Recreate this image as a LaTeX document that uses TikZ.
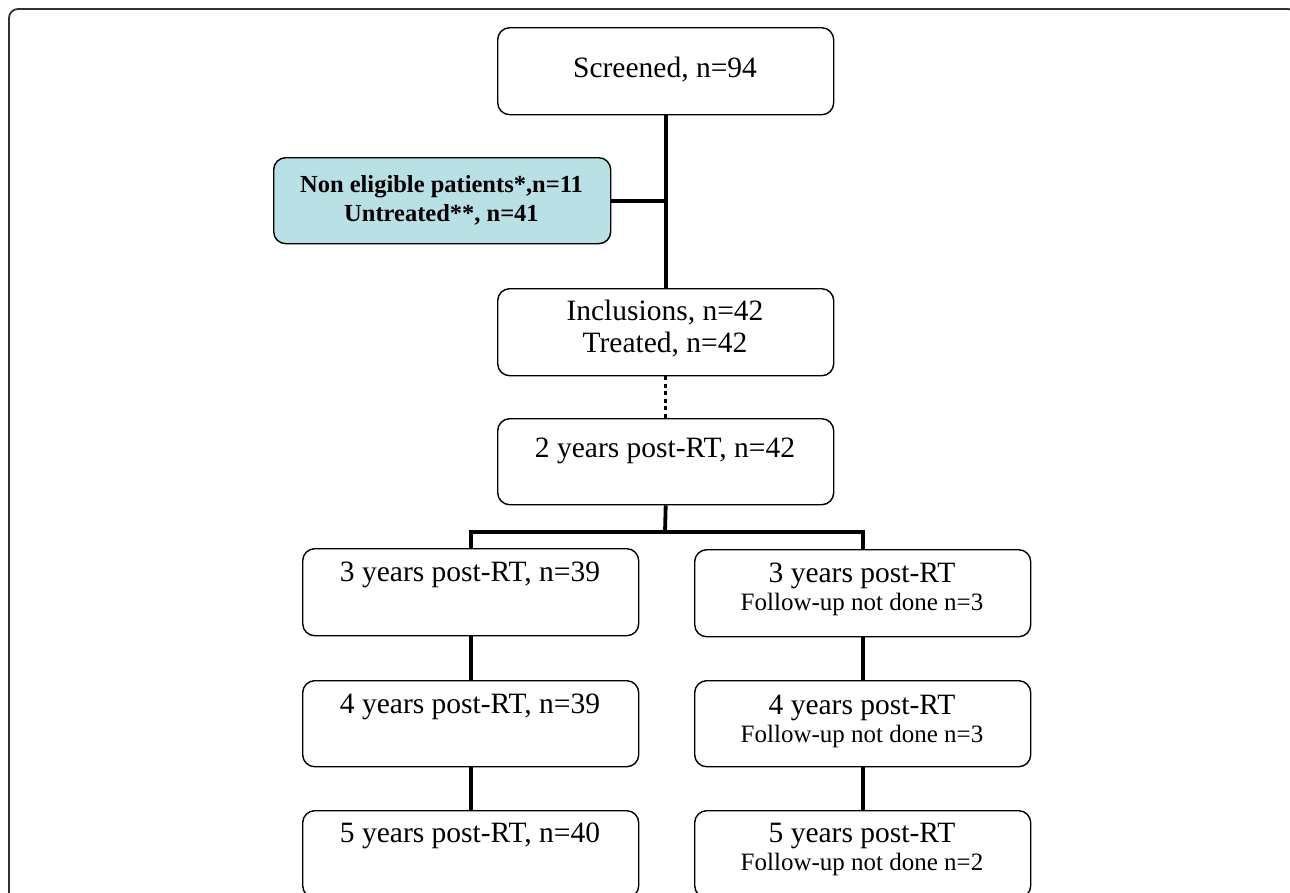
\documentclass[tikz,border=0pt]{standalone}
\usepackage{fontspec}
\setmainfont{Liberation Serif}
\definecolor{teal1}{RGB}{185,224,229}
\definecolor{frame1}{RGB}{50,50,50}
\begin{document}
\begin{tikzpicture}[x=1pt,y=-1pt,
  box/.style={draw=black,line width=1.4pt,rounded corners=12pt,minimum width=336pt,minimum height=87pt,inner sep=0pt,anchor=north west},
  big/.style={font=\fontsize{29.5}{34}\selectfont,anchor=base,inner sep=0pt},
  small/.style={font=\fontsize{25}{28}\selectfont,anchor=base,inner sep=0pt},
  bold/.style={font=\fontsize{24.5}{28}\selectfont\bfseries,anchor=base,inner sep=0pt},
  conn/.style={line width=3.8pt,line join=miter},
  dotconn/.style={line width=3.5pt,dash pattern=on 4pt off 3.5pt}]
\useasboundingbox (0,0) rectangle (1290,892);
\clip (0,0) rectangle (1290,892);
\draw[frame1,line width=1.8pt,rounded corners=9pt] (9,9) rectangle (1297,960);
% boxes
\node[box] (scr) at (497,27) {};
\node[box,fill=teal1,minimum width=337pt,minimum height=86pt] (non) at (273,157) {};
\node[box] (inc) at (497,288) {};
\node[box,minimum height=86pt] (y2) at (497,418) {};
\node[box] (y3l) at (302,548) {};
\node[box,minimum width=336pt] (y3r) at (694,549) {};
\node[box,minimum height=86pt] (y4l) at (302,680) {};
\node[box,minimum width=336pt,minimum height=86pt] (y4r) at (694,680) {};
\node[box] (y5l) at (302,810) {};
\node[box,minimum width=336pt] (y5r) at (694,810) {};
% texts
\node[big] (tscr) at (665,77) {Screened, n=94};
\node[bold] (tnon1) at (441.5,192) {Non eligible patients*,n=11};
\node[bold] (tnon2) at (441.5,221) {Untreated**, n=41};
\node[big] (tinc1) at (665,320) {Inclusions, n=42};
\node[big] (tinc2) at (665,352) {Treated, n=42};
\node[big] (ty2) at (665,457) {2 years post-RT, n=42};
\node[big] (ty3l) at (470,581) {3 years post-RT, n=39};
\node[big] (ty3r) at (862,582) {3 years post-RT};
\node[small] (ty3rs) at (862,610) {Follow-up not done n=3};
\node[big] (ty4l) at (470,713) {4 years post-RT, n=39};
\node[big] (ty4r) at (862,714) {4 years post-RT};
\node[small] (ty4rs) at (862,742) {Follow-up not done n=3};
\node[big] (ty5l) at (470,842) {5 years post-RT, n=40};
\node[big] (ty5r) at (862,842) {5 years post-RT};
\node[small] (ty5rs) at (862,870) {Follow-up not done n=2};
% connectors
\coordinate (br) at (665,532);
\draw[conn] (scr.south) -- (inc.north);
\draw[conn] (non.east) -- (scr.south |- non.east);
\draw[dotconn] (inc.south) -- (y2.north);
\draw[conn] (y2.south) -- (br);
\draw[conn] (y3l.north) |- (br) -| (y3r.north);
\draw[conn] (y3l.south) -- (y4l.north);
\draw[conn] (y4l.south) -- (y5l.north);
\draw[conn] (y3r.south) -- (y4r.north);
\draw[conn] (y4r.south) -- (y5r.north);
\end{tikzpicture}
\end{document}
